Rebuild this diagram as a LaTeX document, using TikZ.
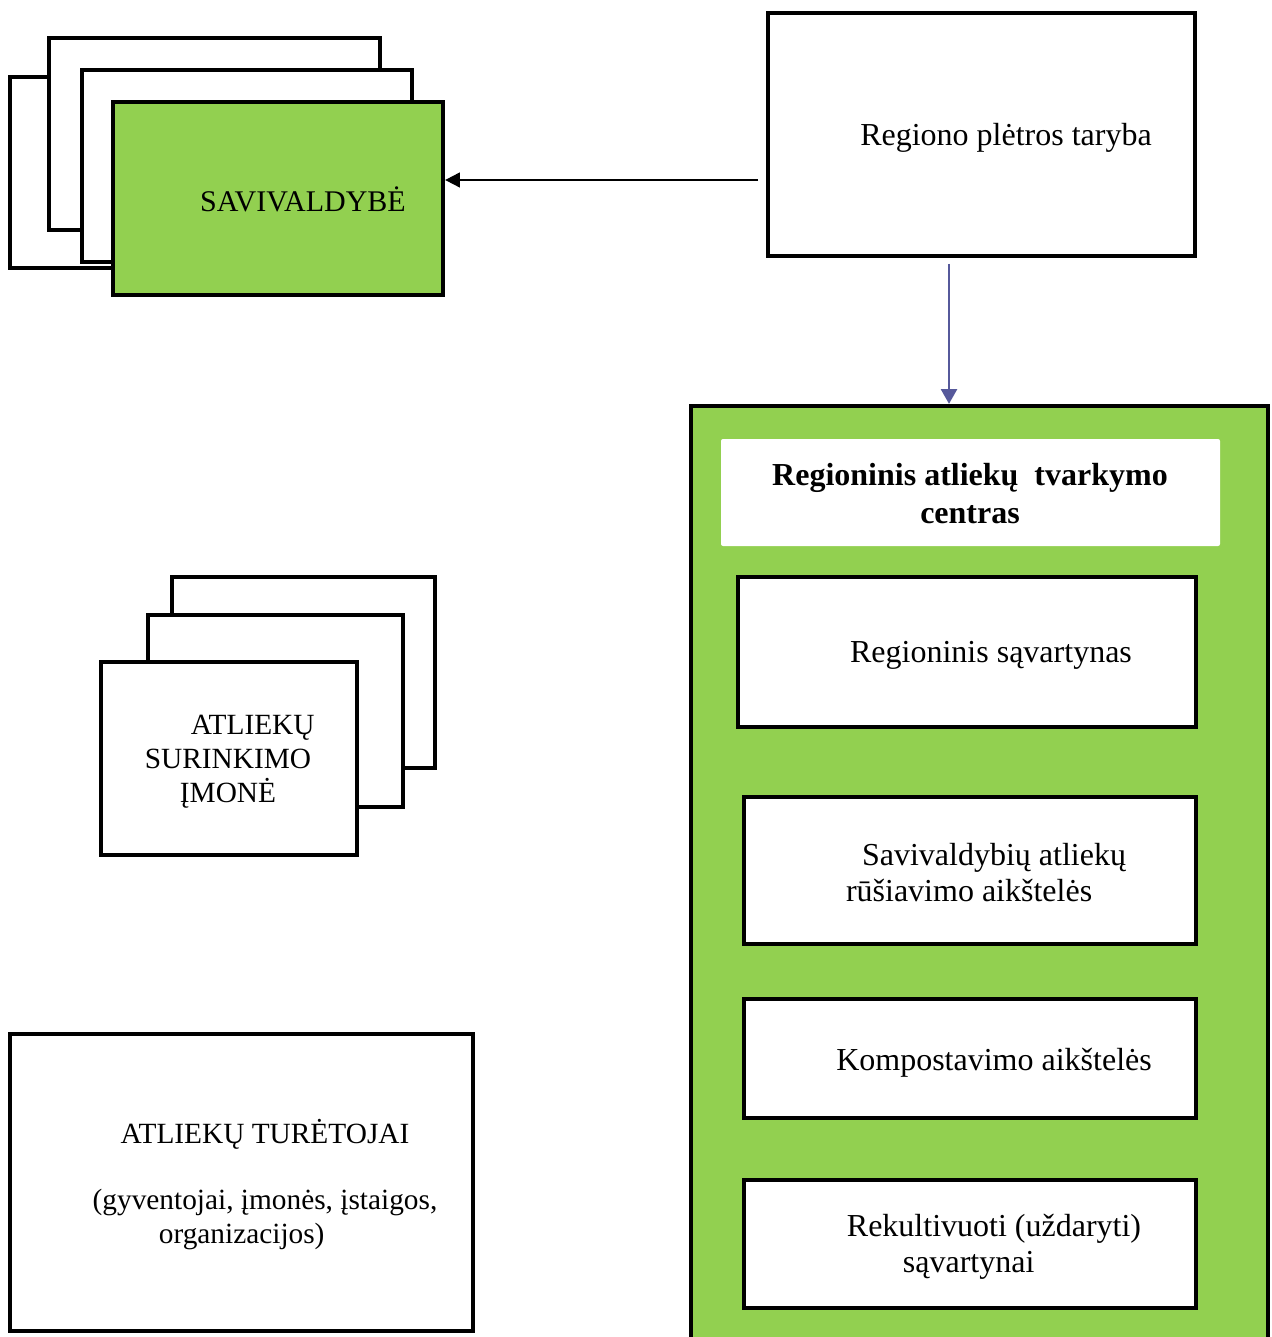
\documentclass[tikz,border=0pt]{standalone}
\usepackage{fontspec}
\setmainfont{Liberation Serif}
\usetikzlibrary{arrows.meta,fit}
\definecolor{lgreen}{HTML}{92D050}
\definecolor{arrblue}{HTML}{56599B}
\begin{document}
\begin{tikzpicture}[x=0.75pt,y=-0.75pt,
 box/.style={draw=black,line width=3.2pt,fill=white,inner sep=0pt},
 gbox/.style={box,fill=lgreen},
 wbox/.style={fill=white,draw=none,inner sep=0pt,rounded corners=1.5pt},
 txt/.style={font=\fontsize{24}{27}\selectfont,inner sep=0pt,align=center},
 ltxt/.style={font=\fontsize{22}{25.5}\selectfont,inner sep=0pt,align=center},
 btxt/.style={font=\fontsize{24}{28.5}\selectfont\bfseries,inner sep=0pt,align=center},
 conn/.style={line width=1.5pt,-{Triangle[length=11pt,width=11pt]}},
 ]
\useasboundingbox (0,0) rectangle (1271,1337);
% Savivaldybe stack
\node[box,fit={(10,77)(300,268)}] (sa) {};
\node[box,fit={(49,38)(380,230)}] (sb) {};
\node[box,fit={(82,70)(412,262)}] (sc) {};
\node[gbox,fit={(113,102)(443,295)}] (sav) {};
\node[ltxt,font=\fontsize{22.5}{26}\selectfont] (savt) at (303,199) {SAVIVALDYBĖ};
% Regiono pletros taryba
\node[box,fit={(768,13)(1195,256)}] (rpt) {};
\node[txt] (rptt) at (1006,138) {Regiono plėtros taryba};
% RATC
\node[gbox,fit={(691,406)(1268,1350)}] (ratc) {};
\node[wbox,fit={(721,439)(1220,546)}] (ratct) {};
\node[btxt] (ratctt) at (970,494) {Regioninis atliekų \ tvarkymo\\centras};
\node[box,fit={(738,577)(1196,727)}] (rs) {};
\node[txt] (rst) at (991,655) {Regioninis sąvartynas};
\node[box,fit={(744,797)(1196,944)}] (sr) {};
\node[txt,align=left] (srt) at (986,873) {\hspace{12pt}Savivaldybių atliekų\\rūšiavimo aikštelės};
\node[box,fit={(744,999)(1196,1118)}] (ka) {};
\node[txt] (kat) at (994,1063) {Kompostavimo aikštelės};
\node[box,fit={(744,1180)(1196,1308)}] (rk) {};
\node[txt,align=left] (rkt) at (994,1247) {Rekultivuoti (uždaryti)\\\hspace{42pt}sąvartynai};
% Surinkimo imone stack
\node[box,fit={(172,577)(435,768)}] (ia) {};
\node[box,fit={(148,615)(403,807)}] (ib) {};
\node[box,fit={(101,662)(357,855)}] (imone) {};
\node[ltxt] (imonet) at (228,762) {\hspace{37pt}ATLIEKŲ\\SURINKIMO\\ĮMONĖ};
% Turetojai
\node[box,fit={(10,1034)(473,1331)}] (tur) {};
\node[ltxt] (turt1) at (265,1134) {ATLIEKŲ TURĖTOJAI};
\node[ltxt] (turt2) at (265,1219) {(gyventojai, įmonės, įstaigos,\\\hspace{-35pt}organizacijos)};
% connectors
\coordinate (h1) at (758,180);
\draw[conn] (h1) -- (sav.east |- h1);
\coordinate (v1) at (949,264);
\draw[conn,draw=arrblue,fill=arrblue,-{Triangle[length=11pt,width=12pt]}] (v1) -- (v1 |- ratc.north);
\end{tikzpicture}
\end{document}
